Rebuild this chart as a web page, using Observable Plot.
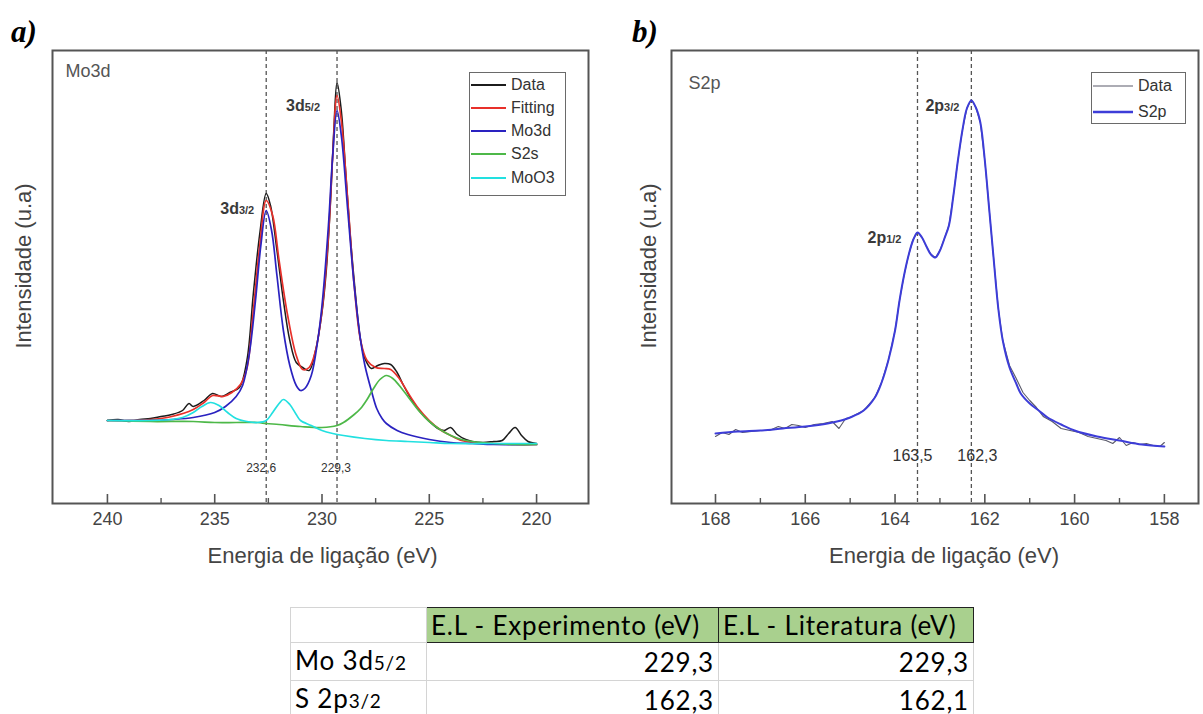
<!DOCTYPE html>
<html><head><meta charset="utf-8">
<script src="https://cdn.jsdelivr.net/npm/d3@7"></script>
<script src="https://cdn.jsdelivr.net/npm/@observablehq/plot@0.6"></script>
<style>
body{margin:0;background:#fff;width:1203px;height:714px;position:relative;overflow:hidden;font-family:"Liberation Sans",Arial,sans-serif;}
.panel{position:absolute;top:0;}
.tag{position:absolute;font-family:"Liberation Serif","Times New Roman",serif;font-weight:bold;font-style:italic;font-size:31px;color:#000;line-height:1;}
.legend{position:absolute;border:1.5px solid #6a6a6a;background:#fff;font-size:16px;color:#333;box-sizing:border-box;}
.legend .row{position:absolute;left:0;height:22px;display:flex;align-items:center;}
.legend svg{display:block;}
table#tbl{position:absolute;left:290px;top:607px;border-collapse:collapse;font-family:Lato,"Open Sans",sans-serif;font-size:26px;letter-spacing:0.8px;color:#000;}
#tbl td{border:1px solid #d4d4d4;height:34px;padding:0 4px;white-space:nowrap;line-height:34px;}
#tbl td.h{background:#a9d08e;border:1.5px solid #222;}
#tbl td.num{text-align:right;}
#tbl small{font-size:19px;}
</style>
</head><body>
<div class="tag" style="left:11px;top:16px;">a)</div>
<div class="tag" style="left:632px;top:16px;">b)</div>
<div id="pa" class="panel" style="left:0px;"></div>
<div id="pb" class="panel" style="left:600px;"></div>
<div id="lega" class="legend" style="left:469px;top:72px;width:97px;height:124px;"></div>
<div id="legb" class="legend" style="left:1091px;top:72px;width:95px;height:52px;"></div>
<table id="tbl"></table>
<script>
// ---------- Panel a: Mo3d (energy eV, intensity a.u.) ----------
const moData = [[240,80],[239.5,81],[239,79],[238.5,81],[238,82],[237.5,84],[237,86],[236.5,90],[236.2,97],[236,94],[235.5,100],[235.1,107],[234.7,104],[234.3,108],[233.85,113],[233.5,140],[233.2,207],[232.9,267],[232.6,307],[232.4,295],[232.1,250],[231.8,200],[231.5,160],[231.2,138],[230.9,133],[230.6,130],[230.3,150],[230,188],[229.8,230],[229.6,300],[229.45,370],[229.3,418],[229.1,390],[228.9,330],[228.7,270],[228.5,220],[228.2,160],[228,142],[227.7,132],[227.4,135],[227.1,137],[226.8,136],[226.5,128],[226.2,115],[225.8,100],[225.4,88],[225,79],[224.6,72],[224.3,70],[224,73],[223.7,66],[223.3,61],[223,59],[222.5,58],[222,59],[221.6,60],[221.3,67],[221,73],[220.7,65],[220.4,59],[220,57]];
const moFit = [[240,80],[238,81],[237,84],[236,91],[235.5,98],[235.1,105],[234.6,104],[234.2,108],[233.8,116],[233.5,132],[233.2,190],[232.9,255],[232.6,300],[232.3,285],[232,240],[231.6,185],[231.2,145],[230.9,131],[230.6,133],[230.3,150],[230,190],[229.7,265],[229.5,345],[229.3,405],[229.1,380],[228.8,300],[228.5,215],[228.2,160],[227.9,140],[227.5,133],[227.1,132],[226.8,131],[226.4,122],[226,108],[225.5,92],[225,80],[224.5,71],[224,65],[223.5,60],[223,58],[222,57],[221,56],[220,56]];
const moMo3d = [[240,80],[238,80],[237,81],[236,83],[235,88],[234.5,94],[234,104],[233.7,115],[233.4,145],[233.1,200],[232.85,255],[232.6,290],[232.35,270],[232.1,225],[231.8,170],[231.5,135],[231.2,115],[231,110],[230.8,112],[230.5,125],[230.2,160],[230,195],[229.7,275],[229.5,345],[229.3,390],[229.1,365],[228.8,290],[228.5,215],[228.2,160],[228,135],[227.7,110],[227.45,92],[227.2,82],[227,77],[226.5,70],[226,66],[225,61],[224,58],[223,57],[222,56],[220,56]];
const moS2s = [[240,80],[238,79],[236,79],[235,78],[234,78],[233,78],[232.6,77],[232,76],[231,74],[230,73],[229.3,75],[229,78],[228.5,86],[228.2,92],[227.9,101],[227.6,112],[227.3,121],[227,125],[226.7,122],[226.4,115],[226,104],[225.5,90],[225,79],[224.5,71],[224,65],[223.5,61],[223,59],[222,57],[221,56],[220,56]];
const moMoO3 = [[240,80],[238,80],[237,81],[236.5,83],[236,88],[235.6,94],[235.2,98],[234.8,95],[234.4,88],[234,82],[233.5,79],[233,78],[232.6,80],[232.3,88],[232,97],[231.8,101],[231.5,96],[231.2,86],[231,80],[230.5,75],[230,70],[229.5,67],[229,65],[228,62],[227,60],[226,59],[225,58],[224,57],[222,57],[220,57]];
const moNames = ["Data","Fitting","Mo3d","S2s","MoO3"];
const moColors = ["#1c1c1c","#e8302a","#2a22c0","#4db848","#22e0e0"];
const moTicks = [240,235,230,225,220];
const moMinor = [237.5,232.5,227.5,222.5];
const moDashes = [232.6,229.3];
const moPeakLabels = [{e:232.6,i:292,t:"3d_3/2",dx:-12},{e:229.3,i:395,t:"3d_5/2",dx:-17}];
const moValueLabels = [{e:232.6,i:32,t:"232,6",dx:-5},{e:229.3,i:32,t:"229,3",dx:-1}];

// ---------- Panel b: S2p ----------
const sData = [[168,64],[167.85,68],[167.7,66],[167.55,71],[167.4,68],[167.2,69],[167,70],[166.8,70],[166.6,74],[166.45,72],[166.3,76],[166.15,75],[166,73],[165.8,76],[165.6,77],[165.4,79],[165.25,72],[165.1,82],[165,83],[164.7,90],[164.45,103],[164.3,118],[164.15,140],[164,170],[163.9,200],[163.8,225],[163.7,245],[163.6,261],[163.5,268],[163.4,263],[163.3,254],[163.2,246],[163.1,243],[163,250],[162.9,262],[162.8,275],[162.7,305],[162.6,340],[162.5,370],[162.4,392],[162.3,401],[162.2,393],[162.1,378],[162,340],[161.9,290],[161.8,240],[161.7,192],[161.6,160],[161.45,135],[161.3,122],[161.15,108],[161,100],[160.85,93],[160.7,84],[160.5,79],[160.3,72],[160.1,70],[159.9,68],[159.7,64],[159.5,62],[159.3,60],[159.15,57],[159,63],[158.85,55],[158.7,58],[158.55,56],[158.4,57],[158.25,55],[158.1,54],[158,58]];
const sFit = [[168,67],[167.5,69],[167,70],[166.5,72],[166,74],[165.5,77],[165.2,80],[165,83],[164.7,90],[164.45,103],[164.3,118],[164.15,140],[164,170],[163.9,200],[163.8,225],[163.7,245],[163.6,260],[163.5,268],[163.4,263],[163.3,254],[163.2,246],[163.1,243],[163,250],[162.9,262],[162.8,275],[162.7,305],[162.6,340],[162.5,370],[162.4,392],[162.3,400],[162.2,393],[162.1,378],[162,340],[161.9,290],[161.8,240],[161.7,192],[161.6,160],[161.45,133],[161.3,117],[161.2,107],[161,97],[160.8,90],[160.6,83],[160.3,76],[160,70],[159.5,64],[159,60],[158.5,56],[158,54]];
const sNames = ["Data","S2p"];
const sColors = ["#5a5a6a","#3d3dd8"];
const sTicks = [168,166,164,162,160,158];
const sMinor = [167,165,163,161,159];
const sDashes = [163.5,162.3];
const sPeakLabels = [{e:163.5,i:263,t:"2p_1/2",dx:-16},{e:162.3,i:395,t:"2p_3/2",dx:-12}];
const sValueLabels = [{e:163.5,i:45,t:"163,5",dx:-5},{e:162.3,i:45,t:"162,3",dx:6}];

// ---------- Table ----------
const tableHeader = ["", "E.L - Experimento (eV)", "E.L - Literatura (eV)"];
const tableRowLabels = [["Mo 3d","5/2"],["S 2p","3/2"]];
const tableExperiment = ["229,3","162,3"];
const tableLiterature = ["229,3","162,1"];

const xLabel = "Energia de ligação (eV)";
const yLabel = "Intensidade (u.a)";
const H = 600, FT = 50, FB = 503;

function panel({width, ml, mr, domain, ticks, minor, series, dashes, peaks, values, title, titleDx, titleDy, ylabDx, xlabDx, valueSize}) {
  const fh = FB - FT;
  const marks = [
    Plot.ruleX(dashes, {stroke:"#555", strokeWidth:1.3, strokeDasharray:"4,3"}),
    ...series.map(s => Plot.line(s.data, {x:d=>d[0], y:d=>d[1], stroke:s.color, strokeWidth:s.w, curve:s.curve})),
    Plot.frame({stroke:"#555", strokeWidth:2}),
    Plot.ruleX(ticks, {insetTop: fh-9, stroke:"#555", strokeWidth:1.6}),
    Plot.ruleX(minor, {insetTop: fh-5, stroke:"#555", strokeWidth:1.4}),
    Plot.axisX({ticks, tickSize:0, tickPadding:9, fontSize:18, color:"#444", label:null, tickFormat:d=>String(d)}),
    Plot.text(peaks, {x:"e", y:"i", text:"t", textAnchor:"end", fontSize:16, fontWeight:"bold", fill:"#3a3a3a"}),
    Plot.text(values, {x:"e", y:"i", text:"t", textAnchor:"middle", fontSize:valueSize, fill:"#333"}),
    Plot.text([title], {frameAnchor:"top-left", textAnchor:"start", lineAnchor:"top", dx:titleDx, dy:titleDy, fontSize:18, fill:"#555"}),
    Plot.text([yLabel], {frameAnchor:"left", textAnchor:"middle", lineAnchor:"middle", rotate:-90, dx:ylabDx, dy:-11, fontSize:22, fill:"#444"}),
    Plot.text([xLabel], {frameAnchor:"bottom", textAnchor:"middle", lineAnchor:"middle", dx:xlabDx, dy:52, fontSize:22, fill:"#444"})
  ];
  return Plot.plot({
    width, height:H, marginLeft:ml, marginRight:mr, marginTop:FT, marginBottom:H-FB,
    x:{domain}, y:{domain:[-3,450], axis:null},
    style:{fontFamily:"Liberation Sans, Arial, sans-serif", background:"transparent", overflow:"visible"},
    marks
  });
}

function fixTexts(svg, peaks, values) {
  d3.select(svg).selectAll("text").each(function() {
    const t = this.textContent;
    const p = peaks.find(q => q.t === t);
    const v = values.find(q => q.t === t);
    if (p) {
      this.setAttribute("transform", (this.getAttribute("transform")||"") + ` translate(${p.dx},0)`);
      const [main, sub] = t.split("_");
      this.textContent = main;
      const ts = document.createElementNS("http://www.w3.org/2000/svg","tspan");
      ts.setAttribute("font-size","11");
      ts.textContent = sub;
      this.appendChild(ts);
    } else if (v) {
      this.setAttribute("transform", (this.getAttribute("transform")||"") + ` translate(${v.dx},0)`);
    }
  });
}

const svgA = panel({width:600, ml:52, mr:12, domain:[242.56,217.58], ticks:moTicks, minor:moMinor,
  series: [moData,moFit,moMo3d,moS2s,moMoO3].map((d,k)=>({data:d, color:moColors[k], w:k===0?1.5:1.7, curve:"catmull-rom"})),
  dashes:moDashes, peaks:moPeakLabels, values:moValueLabels, title:"Mo3d", titleDx:13, titleDy:14, ylabDx:-29, xlabDx:2, valueSize:12});
fixTexts(svgA, moPeakLabels, moValueLabels);
document.getElementById("pa").appendChild(svgA);

const svgB = panel({width:603, ml:71, mr:5, domain:[168.98,157.24], ticks:sTicks, minor:sMinor,
  series: [{data:sData, color:sColors[0], w:1.1, curve:"linear"},{data:sFit, color:sColors[1], w:2, curve:"catmull-rom"}],
  dashes:sDashes, peaks:sPeakLabels, values:sValueLabels, title:"S2p", titleDx:17, titleDy:26, ylabDx:-23, xlabDx:9, valueSize:16});
fixTexts(svgB, sPeakLabels, sValueLabels);
document.getElementById("pb").appendChild(svgB);

function legend(id, names, colors, rowTops, lineW, widths) {
  const el = document.getElementById(id);
  names.forEach((n,k) => {
    const r = document.createElement("div");
    r.className = "row";
    r.style.top = rowTops[k] + "px";
    r.innerHTML = `<svg width="${lineW+5}" height="22"><line x1="1" x2="${lineW}" y1="11" y2="11" stroke="${colors[k]}" stroke-width="${widths[k]}"/></svg><span>${n}</span>`;
    el.appendChild(r);
  });
}
legend("lega", moNames, moColors, [1,24,47,70,94], 36, [2,2,2,2,2]);
legend("legb", sNames, sColors, [2,28], 41, [1.2,2.5]);

const tbl = document.getElementById("tbl");
let html = "<tr>" + tableHeader.map((h,k)=> k===0 ? `<td style="width:127px"></td>` : `<td class="h" style="width:${k===1?283:246}px">${h}</td>`).join("") + "</tr>";
tableRowLabels.forEach((r,k) => {
  html += `<tr><td>${r[0]}<small>${r[1]}</small></td><td class="num">${tableExperiment[k]}</td><td class="num">${tableLiterature[k]}</td></tr>`;
});
tbl.innerHTML = html;
</script>
</body></html>
